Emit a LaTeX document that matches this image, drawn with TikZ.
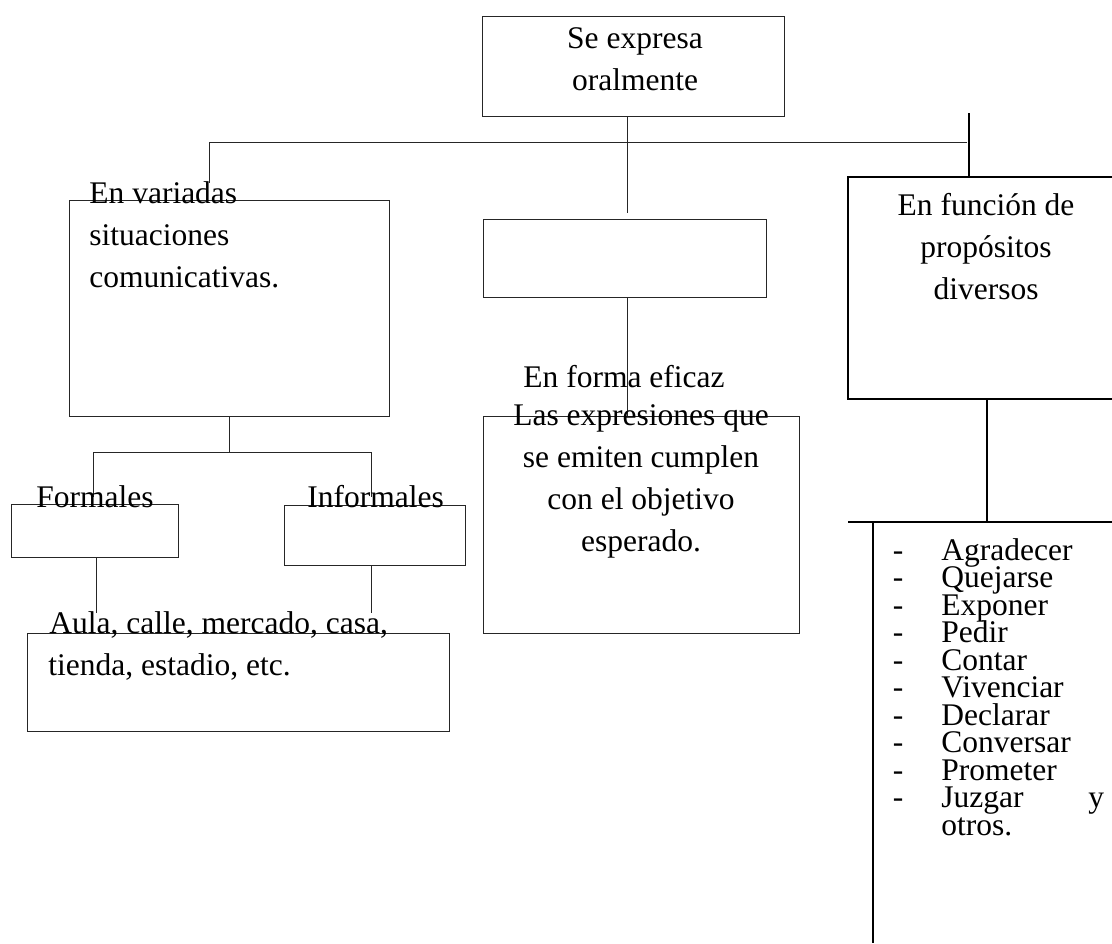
\documentclass[tikz,border=0pt]{standalone}
\usepackage{fontspec}
\setmainfont{Liberation Serif}
\usetikzlibrary{positioning}

\tikzset{
  box/.style={draw=black!85, line width=0.5pt, rectangle, inner sep=0pt},
  bbox/.style={draw=black, line width=1pt, rectangle, inner sep=0pt},
  lbl/.style={font=\fontsize{15.75}{21}\selectfont, inner sep=0pt},
  wire/.style={draw=black!85, line width=0.5pt},
  bwire/.style={draw=black, line width=1pt}
}

\begin{document}
\begin{tikzpicture}[x=0.5pt, y=-0.5pt]
  \useasboundingbox (0,0) rectangle (1112,943);
  \clip (0,0) rectangle (1112,943);

  % === boxes ===
  \node[box, minimum width=151pt, minimum height=50pt] (top) at (633,66) {};
  \node[box, minimum width=160pt, minimum height=108pt] (var) at (229,308) {};
  \node[box, minimum width=141.5pt, minimum height=39pt] (mid) at (624.5,258) {};
  \node[box, minimum width=158pt, minimum height=108.5pt] (eficaz) at (641,524.5) {};
  \node[bbox, minimum width=141pt, minimum height=111pt] (fun) at (989,288) {};
  \node[box, minimum width=83.5pt, minimum height=26.5pt] (formales) at (94.5,530.5) {};
  \node[box, minimum width=90.5pt, minimum height=30pt] (informales) at (374.5,535) {};
  \node[box, minimum width=211pt, minimum height=49pt] (aula) at (238,682) {};

  % === connectors ===
  \coordinate (midtop) at (627,213);
  \coordinate (busL) at (209,142);
  \coordinate (busR) at (967,142);
  \coordinate (varend) at (209,183);
  \coordinate (funtop) at (969,113);
  \coordinate (subL) at (93,452);
  \coordinate (subR) at (371,452);
  \coordinate (formtop) at (93,497);
  \coordinate (inftop) at (371,497);
  \coordinate (aulaL) at (96,613);
  \coordinate (aulaR) at (371,613);
  \coordinate (listbar) at (987,522);
  \coordinate (listL) at (848,522);
  \coordinate (listR) at (1112,522);
  \coordinate (railtop) at (873,522);
  \coordinate (railbot) at (873,943);

  \draw[wire] (top.south -| midtop) -- (midtop);
  \draw[wire] (varend) -- (busL) -- (busR);
  \draw[bwire] (funtop) -- (funtop |- fun.north);
  \draw[wire] (mid.south -| midtop) -- (eficaz.north -| midtop);
  \draw[wire] (var.south) -- (var.south |- subL);
  \draw[wire] (formtop) -- (subL) -- (subR) -- (inftop);
  \draw[wire] (formales.south -| aulaL) -- (aulaL);
  \draw[wire] (informales.south -| aulaR) -- (aulaR);
  \draw[bwire] (fun.south -| listbar) -- (listbar);
  \draw[bwire] (listL) -- (listR);
  \draw[bwire] (railtop) -- (railbot);

  % === texts ===
  \node[lbl, anchor=base] (se1) at (635,48) {Se expresa};
  \node[lbl, anchor=base] (se2) at (635,90) {oralmente};
  \foreach \t [count=\i] in {En variadas, situaciones, comunicativas.}
    \node[lbl, anchor=base west] (var\i) at (89,161+42*\i) {\t};
  \node[lbl, anchor=base west] (formtxt) at (36,507) {Formales};
  \node[lbl, anchor=base west] (inftxt) at (307,507) {Informales};
  \node[lbl, anchor=base west] (aula1) at (49,633) {Aula, calle, mercado, casa,};
  \node[lbl, anchor=base west] (aula2) at (48,675) {tienda, estadio, etc.};
  \node[lbl, anchor=base west] (forma) at (523,387) {En forma eficaz};
  \foreach \t [count=\i from 0] in {Las expresiones que, se emiten cumplen, con el objetivo, esperado.}
    \node[lbl, anchor=base] (efi\i) at (641,425+42*\i) {\t};
  \foreach \t [count=\i from 0] in {En función de, propósitos, diversos}
    \node[lbl, anchor=base] (fun\i) at (986,215+42*\i) {\t};

  % list of purposes
  \foreach \t [count=\i from 0] in {Agradecer, Quejarse, Exponer, Pedir, Contar,
      Vivenciar, Declarar, Conversar, Prometer, Juzgar} {
    \node[lbl, anchor=base] (dash\i) at (898,560+27.5*\i) {-};
    \node[lbl, anchor=base west] (item\i) at (941,560+27.5*\i) {\t};
  }
  \node[lbl, anchor=base west] (ytxt) at (1088,807.5) {y};
  \node[lbl, anchor=base west] (otros) at (941,835) {otros.};
\end{tikzpicture}
\end{document}
